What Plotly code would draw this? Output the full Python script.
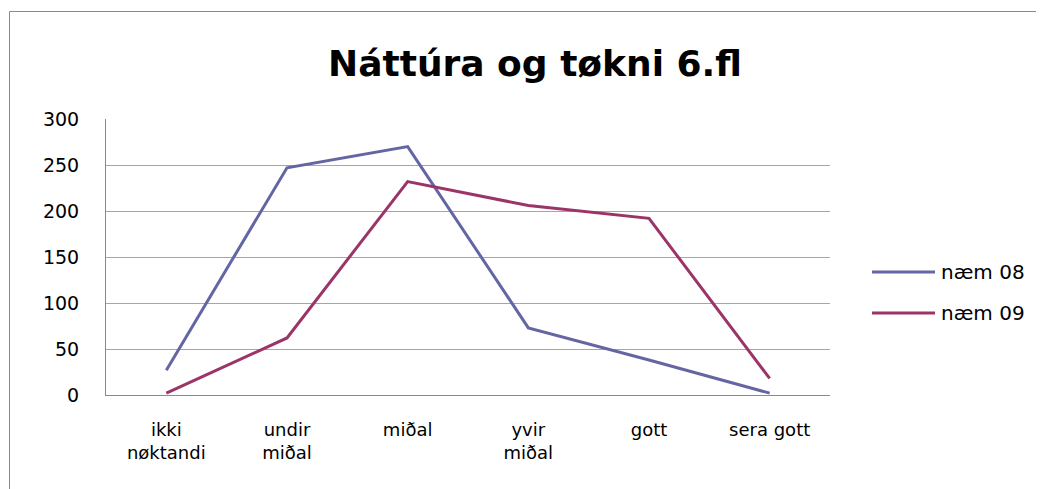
import plotly.graph_objects as go

categories = ["ikki<br>nøktandi", "undir<br>miðal", "miðal", "yvir<br>miðal", "gott", "sera gott"]
series_names = ["næm 08", "næm 09"]
naem08 = [27, 247, 270, 73, 38, 2]
naem09 = [2, 62, 232, 206, 192, 18]
colors = ["#6466a3", "#9b3467"]
y_ticks = [0, 50, 100, 150, 200, 250, 300]

W, H = 1044, 489
OFF = 8  # page body margin offset
L, T = 106 - OFF, 119 - OFF
R = W - (830 - OFF)
B = H - (395 - OFF)
pw, ph = W - L - R, H - T - B

def px_x(px):
    return (px - OFF - L) / pw

def px_y(py):
    return (H - B - (py - OFF)) / ph

fig = go.Figure()
for name, vals, c in zip(series_names, [naem08, naem09], colors):
    fig.add_trace(go.Scatter(x=list(range(len(categories))), y=vals, mode="lines",
                             name=name, line=dict(color=c, width=3), showlegend=False))

shapes = []
annotations = []
# outer chart border
shapes.append(dict(type="rect", xref="paper", yref="paper",
                   x0=px_x(9.5), x1=px_x(1100), y0=px_y(11.5), y1=px_y(560),
                   line=dict(color="#8a8a8a", width=1), fillcolor="rgba(0,0,0,0)", layer="below"))
# custom legend
leg_y = [272, 313]
for name, c, ly in zip(series_names, colors, leg_y):
    shapes.append(dict(type="line", xref="paper", yref="paper",
                       x0=px_x(872), x1=px_x(935), y0=px_y(ly), y1=px_y(ly),
                       line=dict(color=c, width=3)))
    annotations.append(dict(xref="paper", yref="paper", x=px_x(939), y=px_y(ly),
                            text=name, showarrow=False, xanchor="left", yanchor="middle",
                            font=dict(family="DejaVu Sans", size=20, color="#000")))

fig.update_layout(
    width=W, height=H,
    margin=dict(l=L, r=R, t=T, b=B),
    paper_bgcolor="white", plot_bgcolor="white",
    title=dict(text="<b>Náttúra og tøkni 6.fl</b>", x=(535 - OFF) / W, xanchor="center",
               y=1 - (63 - OFF) / H, yanchor="middle",
               font=dict(family="DejaVu Sans", size=36, color="#000")),
    shapes=shapes, annotations=annotations,
    showlegend=False,
)
fig.update_xaxes(
    tickmode="array", tickvals=list(range(len(categories))), ticktext=categories,
    range=[-0.5, len(categories) - 0.5], showgrid=False, zeroline=False,
    showline=True, linecolor="#8a8a8a", linewidth=1, ticks="",
    tickfont=dict(family="DejaVu Sans", size=18, color="#000"), ticklabelstandoff=18,
)
fig.update_yaxes(
    range=[0, 300], tickvals=y_ticks, showgrid=True, gridcolor="#a6a6a6", gridwidth=1,
    zeroline=False, showline=True, linecolor="#8a8a8a", linewidth=1, ticks="",
    tickfont=dict(family="DejaVu Sans", size=19, color="#000"), ticklabelstandoff=22,
)

fig.write_html("out.html")
